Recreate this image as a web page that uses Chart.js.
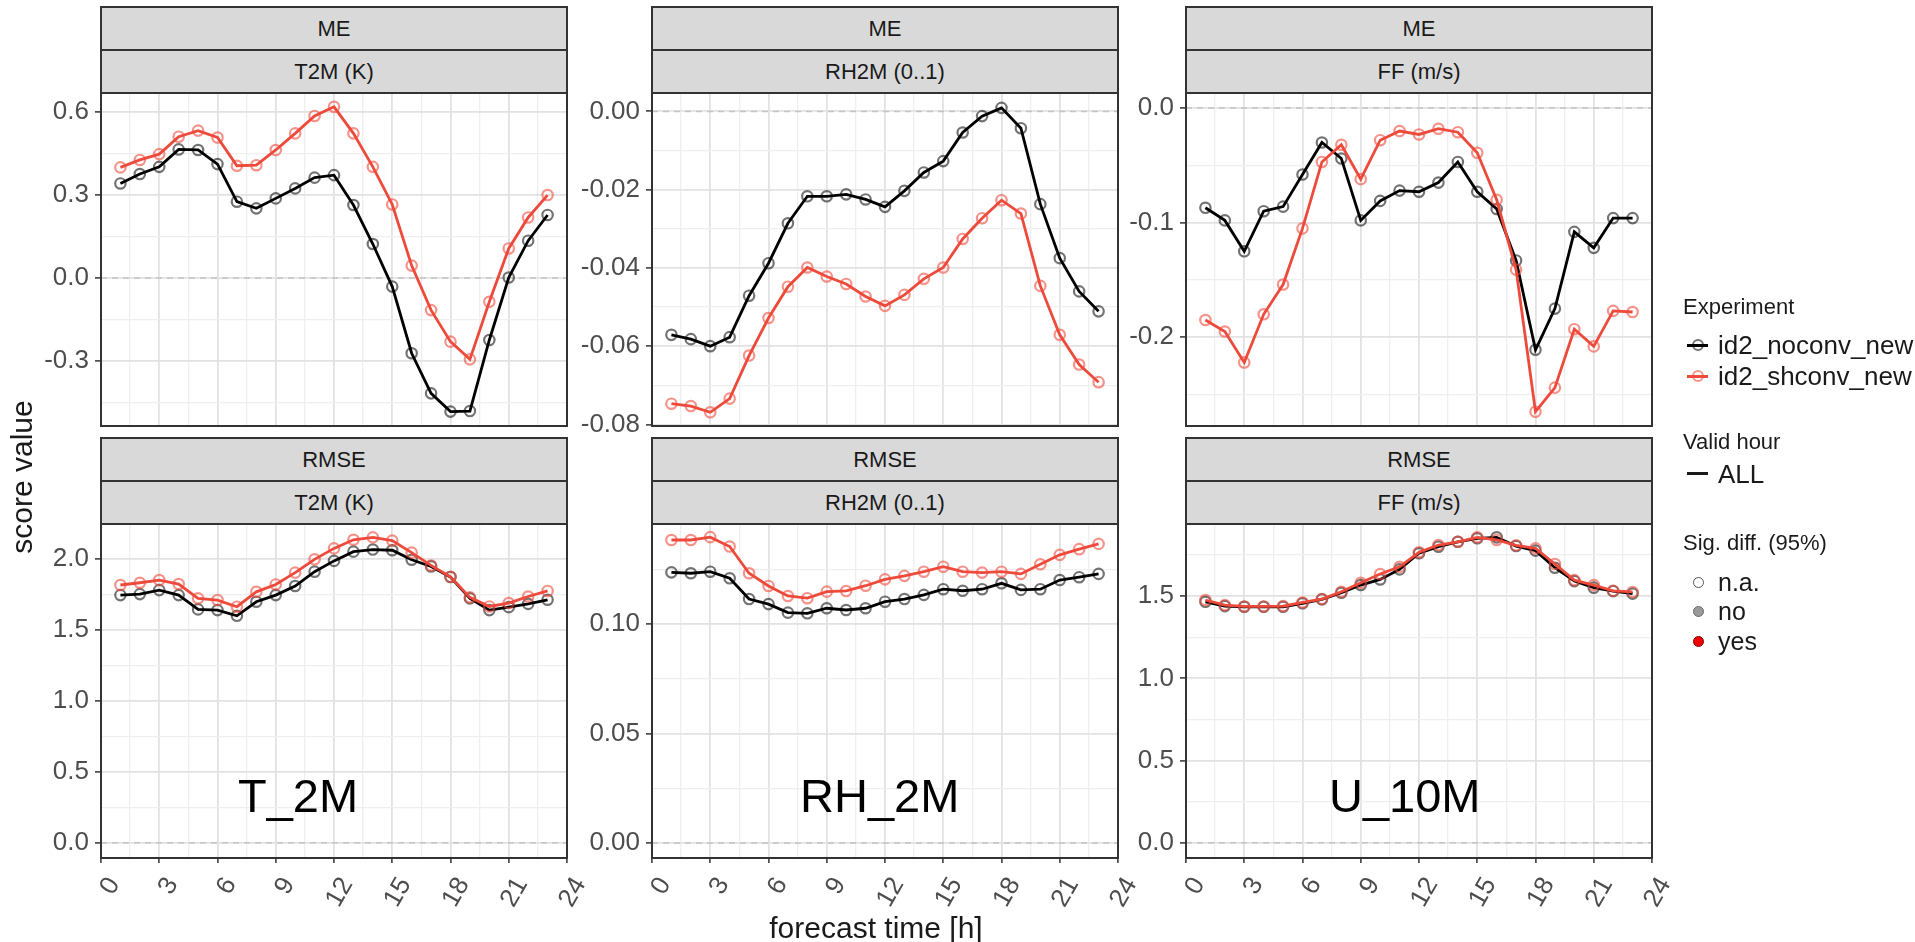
<!DOCTYPE html>
<html>
<head>
<meta charset="utf-8">
<script src="https://cdn.jsdelivr.net/npm/chart.js@4.4.1/dist/chart.umd.min.js"></script>
<style>
  body { margin: 0; width: 1915px; height: 942px; background: #fff; position: relative; overflow: hidden;
         font-family: "Liberation Sans", Arial, sans-serif; }
  canvas { position: absolute; }
  .strip { position: absolute; box-sizing: border-box; background: #d9d9d9; border: 2px solid #333;
           color: #1a1a1a; font-size: 22px; text-align: center; }
  .txt { position: absolute; white-space: nowrap; }
  .key { position: absolute; box-sizing: border-box; border-radius: 50%; }
  .keyline { position: absolute; height: 3px; }
</style>
</head>
<body>
<script>
// forecast hours and x axis
const hours = [1, 2, 3, 4, 5, 6, 7, 8, 9, 10, 11, 12, 13, 14, 15, 16, 17, 18, 19, 20, 21, 22, 23];
const xLimits = [0, 24];
const xMajorStep = 3;
const refLevel = 0;

const experiments = ["id2_noconv_new", "id2_shconv_new"];
const validHours = ["ALL"];
const sigLevels = ["n.a.", "no", "yes"];
const scores = ["ME", "RMSE"];
const params = ["T2M (K)", "RH2M (0..1)", "FF (m/s)"];
const annotations = ["T_2M", "RH_2M", "U_10M"];

// ME
const meT2mNoconv = [0.342, 0.376, 0.402, 0.465, 0.463, 0.412, 0.276, 0.252, 0.288, 0.324, 0.363, 0.372, 0.264, 0.123, -0.031, -0.272, -0.417, -0.483, -0.481, -0.224, 0.002, 0.135, 0.228];
const meT2mShconv = [0.400, 0.427, 0.448, 0.511, 0.533, 0.508, 0.406, 0.408, 0.463, 0.523, 0.586, 0.619, 0.523, 0.402, 0.266, 0.045, -0.116, -0.230, -0.294, -0.086, 0.107, 0.219, 0.300];
const meRhNoconv = [-0.0571, -0.0582, -0.0600, -0.0577, -0.0471, -0.0388, -0.0286, -0.0217, -0.0217, -0.0212, -0.0225, -0.0244, -0.0203, -0.0156, -0.0127, -0.0054, -0.0012, 0.0009, -0.0043, -0.0237, -0.0375, -0.0460, -0.0511];
const meRhShconv = [-0.0747, -0.0753, -0.0769, -0.0734, -0.0624, -0.0528, -0.0448, -0.0399, -0.0422, -0.0441, -0.0473, -0.0497, -0.0469, -0.0428, -0.0399, -0.0326, -0.0273, -0.0227, -0.0261, -0.0446, -0.0571, -0.0647, -0.0692];
const meFfNoconv = [-0.087, -0.098, -0.125, -0.090, -0.086, -0.058, -0.030, -0.044, -0.098, -0.081, -0.072, -0.073, -0.065, -0.047, -0.073, -0.088, -0.133, -0.211, -0.175, -0.108, -0.122, -0.096, -0.096];
const meFfShconv = [-0.185, -0.195, -0.222, -0.180, -0.154, -0.105, -0.047, -0.032, -0.062, -0.028, -0.020, -0.023, -0.018, -0.021, -0.039, -0.080, -0.141, -0.265, -0.244, -0.193, -0.208, -0.177, -0.178];

// RMSE
const rmseT2mNoconv = [1.746, 1.753, 1.781, 1.746, 1.645, 1.640, 1.600, 1.699, 1.746, 1.810, 1.911, 1.987, 2.052, 2.067, 2.062, 1.995, 1.948, 1.873, 1.723, 1.640, 1.661, 1.684, 1.713];
const rmseT2mShconv = [1.817, 1.833, 1.852, 1.824, 1.723, 1.711, 1.664, 1.769, 1.821, 1.904, 1.998, 2.075, 2.136, 2.153, 2.130, 2.045, 1.955, 1.875, 1.730, 1.666, 1.690, 1.736, 1.775];
const rmseRhNoconv = [0.1236, 0.1232, 0.1239, 0.1209, 0.1114, 0.1091, 0.1052, 0.1049, 0.1072, 0.1064, 0.1072, 0.1102, 0.1114, 0.1133, 0.1159, 0.1152, 0.1159, 0.1186, 0.1156, 0.1159, 0.1201, 0.1214, 0.1229];
const rmseRhShconv = [0.1384, 0.1384, 0.1397, 0.1354, 0.1232, 0.1174, 0.1128, 0.1118, 0.1148, 0.1151, 0.1175, 0.1204, 0.1220, 0.1239, 0.1262, 0.1239, 0.1235, 0.1239, 0.1229, 0.1273, 0.1316, 0.1342, 0.1366];
const rmseFfNoconv = [1.465, 1.439, 1.435, 1.435, 1.435, 1.456, 1.480, 1.520, 1.567, 1.601, 1.662, 1.760, 1.800, 1.830, 1.851, 1.857, 1.804, 1.776, 1.672, 1.591, 1.551, 1.530, 1.515];
const rmseFfShconv = [1.476, 1.445, 1.437, 1.437, 1.439, 1.461, 1.482, 1.526, 1.581, 1.634, 1.678, 1.766, 1.810, 1.830, 1.857, 1.841, 1.808, 1.790, 1.695, 1.597, 1.567, 1.532, 1.525];

const BLACK = "#000000", BLACK_RING = "rgba(0,0,0,0.55)";
const RED = "#ee4a3b", RED_RING = "rgba(238,74,59,0.6)";

// layout (px)
const COLS = [101, 652, 1186];
const PLOT_W = 466;
const ROWS = [{ top: 93, h: 333 }, { top: 524, h: 334 }];
const Y_AXIS_W = 100, PAD_T = 30, PAD_B = 30, PAD_R = 45, X_AXIS_H = 60;
const FONT = '"Liberation Sans", Arial, sans-serif';

const panels = [
  { col: 0, row: 0, a: meT2mNoconv, b: meT2mShconv, yMin: -0.535, yMax: 0.669, major: 0.3, dec: 1 },
  { col: 1, row: 0, a: meRhNoconv, b: meRhShconv, yMin: -0.0804, yMax: 0.0047, major: 0.02, dec: 2 },
  { col: 2, row: 0, a: meFfNoconv, b: meFfShconv, yMin: -0.2775, yMax: 0.0132, major: 0.1, dec: 1 },
  { col: 0, row: 1, a: rmseT2mNoconv, b: rmseT2mShconv, yMin: -0.107, yMax: 2.247, major: 0.5, dec: 1 },
  { col: 1, row: 1, a: rmseRhNoconv, b: rmseRhShconv, yMin: -0.0069, yMax: 0.1457, major: 0.05, dec: 2 },
  { col: 2, row: 1, a: rmseFfNoconv, b: rmseFfShconv, yMin: -0.092, yMax: 1.938, major: 0.5, dec: 1 },
];

Chart.defaults.font.family = FONT;

function isMajor(v, step) {
  return Math.abs(v / step - Math.round(v / step)) < 1e-6;
}

const panelBorder = {
  id: "panelBorder",
  afterDraw(chart) {
    const { ctx, chartArea: a } = chart;
    ctx.save();
    ctx.strokeStyle = "#333";
    ctx.lineWidth = 2;
    ctx.strokeRect(a.left, a.top, a.right - a.left, a.bottom - a.top);
    ctx.restore();
  },
};

function series(values, color, ring) {
  return {
    data: values.map((v, i) => ({ x: hours[i], y: v })),
    borderColor: color,
    borderWidth: 2.8,
    pointRadius: 5.2,
    pointBorderWidth: 2.2,
    pointBorderColor: ring,
    pointBackgroundColor: "rgba(0,0,0,0)",
    tension: 0,
  };
}

function addDiv(cls, text, style) {
  const d = document.createElement("div");
  d.className = cls;
  d.textContent = text;
  Object.assign(d.style, style);
  document.body.appendChild(d);
  return d;
}

// text centred vertically on cy
function addText(text, x, cy, size, color, extra) {
  return addDiv("txt", text, Object.assign({
    left: x + "px", top: (cy - size) + "px", height: 2 * size + "px", lineHeight: 2 * size + "px",
    fontSize: size + "px", color: color,
  }, extra || {}));
}

panels.forEach((p) => {
  const left = COLS[p.col] - Y_AXIS_W;
  const row = ROWS[p.row];
  const bottomRow = p.row === 1;
  const canvas = document.createElement("canvas");
  const w = Y_AXIS_W + PLOT_W + PAD_R;
  const h = PAD_T + row.h + (bottomRow ? X_AXIS_H : PAD_B);
  canvas.width = w; canvas.height = h;
  canvas.style.left = left + "px";
  canvas.style.top = (row.top - PAD_T) + "px";
  canvas.style.width = w + "px"; canvas.style.height = h + "px";
  document.body.appendChild(canvas);

  const refLine = {
    data: xLimits.map((x) => ({ x: x, y: refLevel })),
    borderColor: "#c4c4c4", borderWidth: 1.5, borderDash: [6, 5], pointRadius: 0,
  };

  new Chart(canvas.getContext("2d"), {
    type: "line",
    data: { datasets: [series(p.b, RED, RED_RING), series(p.a, BLACK, BLACK_RING), refLine] },
    options: {
      responsive: false,
      animation: false,
      devicePixelRatio: 1,
      layout: { padding: { top: PAD_T, right: PAD_R, bottom: bottomRow ? 0 : PAD_B, left: 0 } },
      plugins: { legend: { display: false }, tooltip: { enabled: false } },
      scales: {
        x: {
          type: "linear",
          min: xLimits[0], max: xLimits[1],
          border: { display: false },
          grid: {
            color: (c) => (isMajor(c.tick.value, xMajorStep) ? "#e2e2e2" : "#efefef"),
            lineWidth: (c) => (isMajor(c.tick.value, xMajorStep) ? 1.8 : 1.3),
            drawTicks: bottomRow,
            tickLength: 5,
            tickColor: (c) => (isMajor(c.tick.value, xMajorStep) ? "#333" : "rgba(0,0,0,0)"),
            tickWidth: 1.5,
          },
          ticks: {
            display: bottomRow,
            stepSize: xMajorStep / 2,
            includeBounds: false,
            autoSkip: false,
            minRotation: 60, maxRotation: 60,
            padding: 9,
            labelOffset: 13,
            color: "#4d4d4d",
            font: { size: 26 },
            callback: (v) => (isMajor(v, xMajorStep) ? String(v) : ""),
          },
          afterFit: (s) => { s.height = bottomRow ? X_AXIS_H : 0; },
        },
        y: {
          min: p.yMin, max: p.yMax,
          border: { display: false },
          grid: {
            color: (c) => (isMajor(c.tick.value, p.major) ? "#e2e2e2" : "#efefef"),
            lineWidth: (c) => (isMajor(c.tick.value, p.major) ? 1.8 : 1.3),
            tickLength: 6,
            tickColor: (c) => (isMajor(c.tick.value, p.major) ? "#333" : "rgba(0,0,0,0)"),
            tickWidth: 1.5,
          },
          ticks: {
            stepSize: p.major / 2,
            includeBounds: false,
            autoSkip: false,
            padding: 6,
            color: "#4d4d4d",
            font: { size: 26 },
            callback: (v) => (isMajor(v, p.major) ? (Math.abs(v) < 1e-9 ? 0 : v).toFixed(p.dec) : ""),
          },
          afterFit: (s) => { s.width = Y_AXIS_W; },
        },
      },
    },
    plugins: [panelBorder],
  });

  // facet strips
  const stripTop = p.row === 0 ? 6 : 437;
  [scores[p.row], params[p.col]].forEach((label, k) => {
    addDiv("strip", label, {
      left: (COLS[p.col] - 1) + "px", top: (stripTop + k * 43) + "px",
      width: (PLOT_W + 2) + "px", height: "45px", lineHeight: "41px",
    });
  });
});

// big variable labels inside the RMSE panels
const annotX = [238, 800, 1329];
annotations.forEach((t, i) => addText(t, annotX[i], 796, 47, "#000"));

// axis titles
addText("forecast time [h]", 876 - 150, 928, 30, "#1a1a1a", { width: "300px", textAlign: "center" });
addText("score value", 22 - 150, 477, 30, "#1a1a1a",
  { width: "300px", textAlign: "center", transform: "rotate(-90deg)" });

// legend
const LX = 1683, KX = 1698, TX = 1718;
addText("Experiment", LX, 307, 22, "#1a1a1a");
const expColors = [[BLACK, BLACK_RING], [RED, RED_RING]];
const expY = [345, 376];
experiments.forEach((e, i) => {
  addDiv("keyline", "", { left: "1687px", top: (expY[i] - 1.5) + "px", width: "21px", background: expColors[i][0] });
  addDiv("key", "", { left: (KX - 6) + "px", top: (expY[i] - 6) + "px", width: "12px", height: "12px",
    border: "2px solid " + expColors[i][1] });
  addText(e, TX, expY[i], 26, "#1a1a1a");
});
addText("Valid hour", LX, 442, 22, "#1a1a1a");
validHours.forEach((v) => {
  addDiv("keyline", "", { left: "1687px", top: "472px", width: "21px", background: "#1a1a1a" });
  addText(v, TX, 474, 26, "#1a1a1a");
});
addText("Sig. diff. (95%)", LX, 543, 22, "#1a1a1a");
const sigFill = ["#ffffff", "#9a9a9a", "#ee0000"];
const sigEdge = ["#555555", "#6a6a6a", "#8a0000"];
const sigY = [582, 611, 641];
sigLevels.forEach((s, i) => {
  addDiv("key", "", { left: (KX - 5.5) + "px", top: (sigY[i] - 5.5) + "px", width: "11px", height: "11px",
    background: sigFill[i], border: "1.5px solid " + sigEdge[i] });
  addText(s, TX, sigY[i], 25, "#1a1a1a");
});
</script>
</body>
</html>
